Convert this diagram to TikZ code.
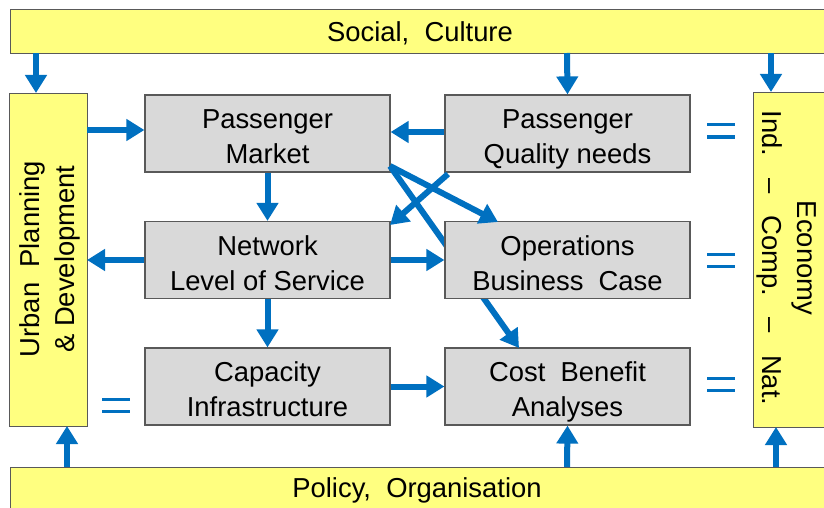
\documentclass[tikz,border=0pt]{standalone}
\usepackage{fontspec}
\setmainfont{Liberation Sans}
\usetikzlibrary{arrows.meta}
\definecolor{frameyellow}{HTML}{FFFF80}
\definecolor{boxgrey}{HTML}{D9D9D9}
\definecolor{linkblue}{HTML}{0070C0}
\definecolor{edgegrey}{HTML}{595959}
% fixed line boxes so every two-line label sits on the same baselines
\newcommand\lbltop{\rule{0pt}{32pt}}
\newcommand\lblbot{\rule[-6.5pt]{0pt}{6.5pt}}
\newcommand\twolines[2]{\lbltop#1\\#2\lblbot}
\tikzset{
  txt/.style={font=\fontsize{27.4}{35}\selectfont, align=center, inner sep=0pt},
  context/.style={draw=edgegrey, fill=frameyellow, line width=1.2pt},
  stepbox/.style={draw=edgegrey, fill=boxgrey, line width=1.2pt,
    minimum width=245pt, minimum height=77pt, inner sep=0pt,
    font=\fontsize{27.4}{35}\selectfont, align=center},
  flow/.style={draw=linkblue, line width=6pt,
    -{Triangle[width=21pt,length=18pt]}},
  eqbar/.style={draw=linkblue, line width=3pt},
}
\begin{document}
\begin{tikzpicture}[x=1pt, y=-1pt]
\path[use as bounding box] (0,0) rectangle (824,508);
\clip (0,0) rectangle (824,508);
\fill[white] (0,0) rectangle (824,508);

% surrounding context frames
\node[context, minimum width=826pt, minimum height=44pt, inner sep=0pt,
  anchor=north west] (social) at (10,9) {};
\node[txt] (socialtxt) at (420,33) {Social,\ \ Culture};
\node[context, minimum width=826pt, minimum height=50pt, inner sep=0pt,
  anchor=north west] (policy) at (10,467) {};
\node[txt] (policytxt) at (417,490) {Policy,\ \ Organisation};
\node[context, minimum width=78pt, minimum height=333pt, inner sep=0pt,
  anchor=north west] (urban) at (9,93) {};
\node[txt, rotate=90] (urbantxt) at (50,259) {Urban\ \ Planning\\\&\ Development};
\node[context, minimum width=80pt, minimum height=335pt, inner sep=0pt,
  anchor=north west] (economy) at (753,92) {};
\node[txt, rotate=-90] (economytxt) at (787,258)
  {Economy\\Ind.\hspace{0.8em}–\hspace{0.8em}Comp.\hspace{0.8em}–\hspace{0.8em}Nat.};

% core steps
\node[stepbox] (market)  at (267.5,133.5) {\twolines{Passenger}{Market}};
\node[stepbox] (quality) at (567.5,133.5) {\twolines{Passenger}{Quality needs}};
\node[stepbox] (network) at (267.5,260)   {\twolines{Network}{Level of Service}};
\node[stepbox] (ops)     at (567.5,260)   {\twolines{Operations}{Business\ \ Case}};
\node[stepbox] (capa)    at (267.5,386.5) {\twolines{Capacity}{Infrastructure}};
\node[stepbox] (cba)     at (567.5,386.5) {\twolines{Cost\ \ Benefit}{Analyses}};

% link from the market that runs behind the operations box
\coordinate (mktcorner) at (390,166);
\coordinate (cbatop) at (519,348);
\draw[flow] (mktcorner) -- (cbatop);
% redraw the operations box over that link
\node[stepbox] (opsfront) at (567.5,260) {\twolines{Operations}{Business\ \ Case}};

% flows from the context frames
\coordinate (urbantop) at (36,93);
\coordinate (urbanbot) at (67,426);
\coordinate (econtop) at (771,92);
\coordinate (econbot) at (776,427);
\draw[flow] (36,53) -- (urbantop);
\draw[flow] (567,53) -- (quality.north);
\draw[flow] (771,53) -- (econtop);
\draw[flow] (67,467) -- (urbanbot);
\draw[flow] (567,467) -- (cba.south);
\draw[flow] (776,467) -- (econbot);

% flows between the steps
\draw[flow] (87,130) -- (market.west |- 0,130);
\draw[flow] (quality.west |- 0,132) -- (market.east |- 0,132);
\draw[flow] (market.south) -- (network.north);
\draw[flow] (network.west) -- (87,260);
\draw[flow] (network.east) -- (ops.west);
\draw[flow] (network.south) -- (capa.north);
\draw[flow] (capa.east) -- (cba.west);
\draw[flow] (mktcorner) -- (498,222);
\draw[flow] (448,174) -- (390,225);

% equivalence marks
\foreach \cx/\cy in {116/405, 721/131, 721/260, 721/384} {
  \draw[eqbar] (\cx-14,\cy-6) -- (\cx+14,\cy-6);
  \draw[eqbar] (\cx-14,\cy+6) -- (\cx+14,\cy+6);
}
\end{tikzpicture}
\end{document}
